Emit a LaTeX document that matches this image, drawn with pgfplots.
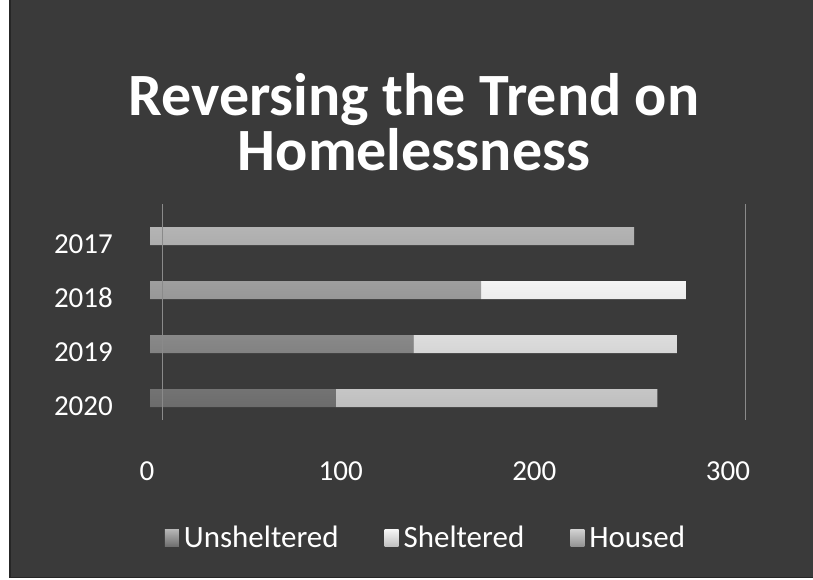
\documentclass[border=0pt]{standalone}
\usepackage{fontspec}
\setmainfont{Carlito}
\usepackage{pgfplots}
\pgfplotsset{compat=1.18}
\definecolor{bg}{HTML}{3A3A3A}
\definecolor{unshT}{HTML}{B4B4B4}
\definecolor{unshB}{HTML}{6C6C6C}
\definecolor{shelT}{HTML}{F4F4F4}
\definecolor{shelB}{HTML}{BEBEBE}
\definecolor{housT}{HTML}{D0D0D0}
\definecolor{housB}{HTML}{909090}
\definecolor{wall}{HTML}{8A8A8A}
\begin{document}
\begin{tikzpicture}[x=1pt,y=1pt]
\useasboundingbox (0,0) rectangle (813,580);
\fill[white] (0,0) rectangle (813,580);
\fill[black!85] (9,2) rectangle (813,580);
\fill[bg] (11,3) rectangle (813,580);
\node[text=white, font=\fontsize{60}{55}\selectfont\bfseries, align=center] at (414,458) {Reversing the Trend on\\Homelessness};
\begin{axis}[
  at={(150pt,160pt)}, anchor=south west,
  scale only axis, width=581pt, height=220pt,
  xmin=0, xmax=300, ymin=-0.407, ymax=3.667,
  clip=false,
  xbar stacked, bar width=18pt,
  xtick={0,100,200,300},
  ytick={0,1,2,3}, yticklabels={2020,2019,2018,2017},
  major tick length=0pt,
  axis line style={draw=none},
  /pgf/number format/assume math mode=true,
  tick label style={font=\fontsize{29}{30}\selectfont, text=white, inner sep=0pt},
  xticklabel style={anchor=base, yshift=-61pt, xshift=-3pt},
  yticklabel style={anchor=east, xshift=-37pt, yshift=-8pt},
  legend columns=3,
  legend style={at={(0.475,-0.536)}, anchor=center, draw=none, fill=none,
    text=white, font=\fontsize{31}{31}\selectfont,
    /tikz/every odd column/.append style={column sep=3pt},
    /tikz/every even column/.append style={column sep=44pt}},
  legend image code/.code={\fill[#1,draw=none] (0pt,-9pt) rectangle (14pt,8pt);},
]
\draw[wall, line width=1pt] (axis cs:6.7,-0.407) -- (axis cs:6.7,3.6);
\draw[wall, line width=1pt] (axis cs:307.7,-0.407) -- (axis cs:307.7,3.6);
\addplot[draw=none, top color=unshT, bottom color=unshB] coordinates {(250,3) (171,2) (136,1) (96,0)};
\addplot[draw=none, top color=shelT, bottom color=shelB] coordinates {(0,3) (106,2) (136,1) (166,0)};
\addplot[draw=none, top color=housT, bottom color=housB] coordinates {(0,3) (0,2) (0,1) (0,0)};
\legend{Unsheltered, Sheltered, Housed}
\end{axis}
\end{tikzpicture}
\end{document}
